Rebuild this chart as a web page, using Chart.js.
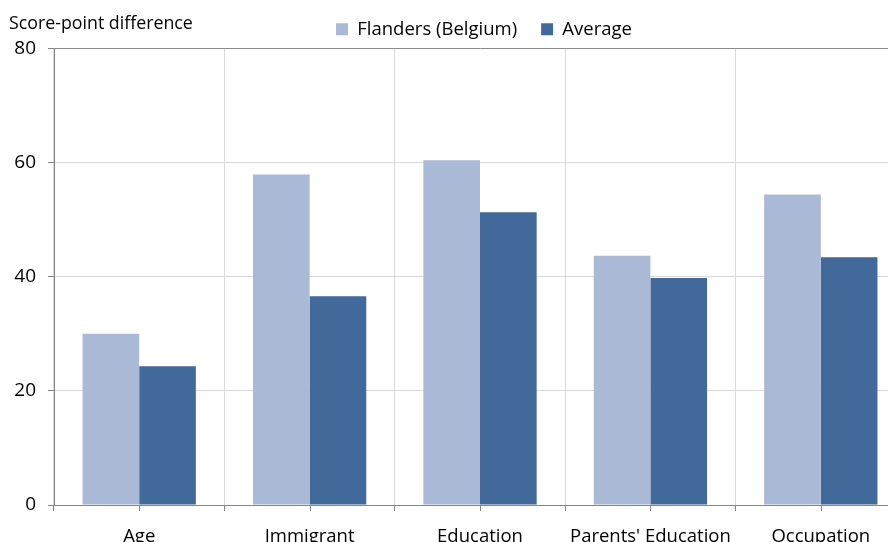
<!DOCTYPE html>
<html>
<head>
<meta charset="utf-8">
<script src="https://cdn.jsdelivr.net/npm/chart.js@4"></script>
<style>
html,body{margin:0;padding:0;background:#fff;overflow:hidden;}
#wrap{position:relative;width:910px;height:575px;}
</style>
</head>
<body>
<div id="wrap"><canvas id="c"></canvas></div>
<script>
const categories = ["Age", "Immigrant", "Education", "Parents' Education", "Occupation"];
const flanders = [30.0, 57.9, 60.4, 43.7, 54.4];
const average = [24.3, 36.6, 51.3, 39.8, 43.4];
const seriesNames = ["Flanders (Belgium)", "Average"];
const yTicks = [0, 20, 40, 60, 80];
const yTitle = "Score-point difference";

const FONT = "'Open Sans', 'Noto Sans', sans-serif";

const extras = {
  id: 'extras',
  beforeDraw(chart) {
    const lg = chart.legend;
    if (lg && !lg._shifted) {
      lg.left += 31; lg.right += 31;
      lg._shifted = true;
    }
  },
  afterDraw(chart) {
    const ctx = chart.ctx;
    const x = chart.scales.x;
    const area = chart.chartArea;
    ctx.save();
    ctx.strokeStyle = '#868686';
    ctx.lineWidth = 1;
    categories.forEach((c, i) => {
      const px = Math.round(x.getPixelForValue(i)) + 0.5;
      ctx.beginPath();
      ctx.moveTo(px, area.bottom);
      ctx.lineTo(px, area.bottom + 6);
      ctx.stroke();
    });
    ctx.fillStyle = '#000';
    ctx.font = "17.8px " + FONT;
    ctx.textBaseline = 'middle';
    ctx.textAlign = 'left';
    ctx.fillText(yTitle, 9, 24);
    ctx.restore();
  }
};

new Chart(document.getElementById('c'), {
  type: 'bar',
  data: {
    labels: categories,
    datasets: [
      { label: seriesNames[0], data: flanders, backgroundColor: '#AAB9D6', borderWidth: 0 },
      { label: seriesNames[1], data: average, backgroundColor: '#41699A', borderWidth: 0 }
    ]
  },
  options: {
    responsive: true,
    maintainAspectRatio: false,
    animation: false,
    layout: { padding: { left: 0, right: 4, top: -4, bottom: 0 } },
    datasets: { bar: { categoryPercentage: 0.665, barPercentage: 1.0 } },
    plugins: {
      legend: {
        display: true,
        position: 'top',
        align: 'center',
        labels: {
          boxWidth: 12, boxHeight: 12, padding: 24,
          color: '#000',
          font: { family: FONT, size: 18.5 }
        }
      },
      tooltip: { enabled: false },
      title: { display: false }
    },
    scales: {
      x: {
        grid: {
          offset: true,
          color: '#d9d9d9',
          tickColor: '#868686',
          tickLength: 6,
          lineWidth: 1
        },
        border: { color: '#868686', width: 1 },
        ticks: {
          color: '#000',
          font: { family: FONT, size: 18.5 },
          padding: 15,
          maxRotation: 0,
          autoSkip: false
        },
        afterFit(s) { s.height = 70; }
      },
      y: {
        min: 0, max: 80,
        afterBuildTicks(s) { s.ticks = yTicks.map(v => ({ value: v })); },
        grid: {
          color: ctx => (ctx.tick && ctx.tick.value === 80) ? '#8a8a8a' : '#d9d9d9',
          tickColor: '#868686',
          tickLength: 6,
          lineWidth: 1
        },
        border: { color: '#868686', width: 1 },
        ticks: {
          color: '#000',
          font: { family: FONT, size: 19 },
          padding: 12
        },
        afterFit(s) { s.width = 54; }
      }
    }
  },
  plugins: [extras]
});
</script>
</body>
</html>
